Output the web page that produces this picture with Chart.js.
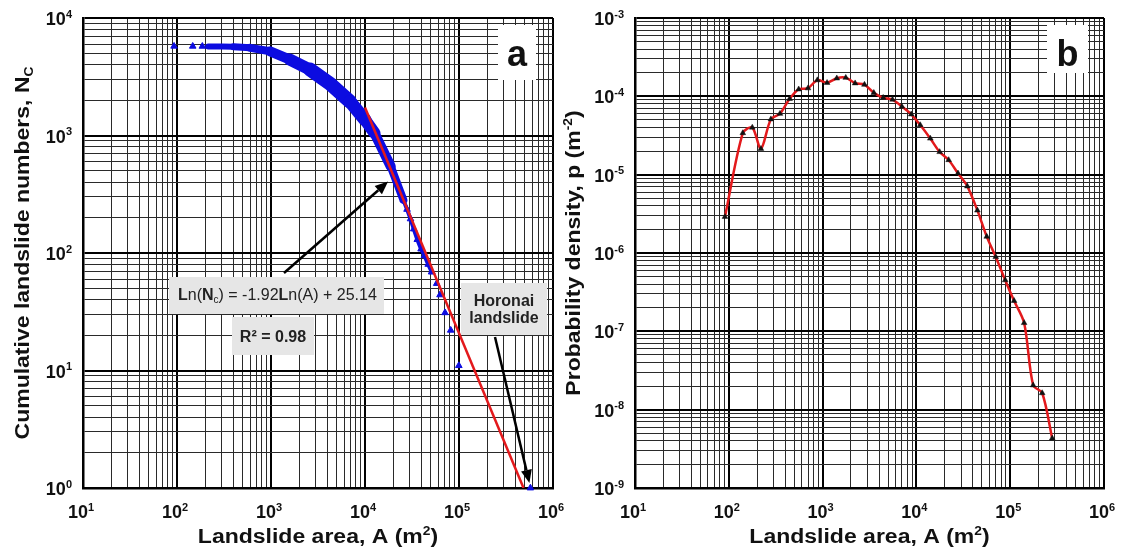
<!DOCTYPE html>
<html>
<head>
<meta charset="utf-8">
<title>Landslide area statistics</title>
<script src="https://cdn.jsdelivr.net/npm/chart.js@4.4.1/dist/chart.umd.min.js"></script>
<style>
  html, body { margin: 0; padding: 0; background: #fff; }
  .panel { position: absolute; top: 0; height: 552px; }
  /* panel a is a bit wider so its last tick label can spill past the split */
  #panelA { left: 0; width: 580px; }
  #panelB { left: 560px; width: 564px; }
</style>
</head>
<body>
<div class="panel" id="panelA"><canvas id="cumChart"></canvas></div>
<div class="panel" id="panelB"><canvas id="densChart"></canvas></div>
<script>
// ---- (a) cumulative number of landslides larger than A ----
const headArea = [93, 147, 186];
const headCount = [5750, 5745, 5740];

const bandArea = [215, 300, 400, 600, 980, 1590, 2600, 4250, 6900, 10000, 12600, 18800, 25600];
const bandCount = [5730, 5720, 5690, 5570, 5210, 4430, 3640, 2760, 1950, 1360, 1050, 545, 283];

const steepArea = [25600, 28000, 30500, 33000, 36000, 39500, 43000, 47000, 51300];
const steepCount = [283, 235, 195, 160, 130, 108, 95, 80, 69];

const tailArea = [51300, 57900, 62800, 71000, 81600, 99600];
const tailCount = [69, 55, 44, 31, 22, 11];

const horonaiArea = [575000];
const horonaiCount = [1];

// power-law fit of the tail: Ln(Nc) = fitSlope * Ln(A) + fitIntercept
const fitSlope = -1.92;
const fitIntercept = 25.14;
const fitR2 = 0.98;
const fitArea = [1e4, Math.exp(fitIntercept / -fitSlope)];

// ---- (b) probability density of landslide area ----
const densityArea = [91, 141, 178, 220, 281, 351, 445, 556, 699, 879,
  1116, 1417, 1766, 2222, 2795, 3516, 4424, 5565, 7000, 8806,
  10990, 14070, 17700, 22080, 27760, 34920, 44700, 56230, 70150, 88500,
  110000, 140800, 175700, 219300, 280600];
const density = [2.9e-6, 3.4e-5, 4.0e-5, 2.14e-5, 5.1e-5, 6.0e-5, 9.3e-5, 1.23e-4, 1.27e-4, 1.61e-4,
  1.49e-4, 1.70e-4, 1.73e-4, 1.47e-4, 1.41e-4, 1.11e-4, 9.6e-5, 9.1e-5, 7.4e-5, 5.9e-5,
  4.3e-5, 2.9e-5, 1.95e-5, 1.54e-5, 1.04e-5, 7.1e-6, 3.5e-6, 1.62e-6, 8.9e-7, 4.5e-7,
  2.45e-7, 1.28e-7, 2.05e-8, 1.63e-8, 4.3e-9];

// decades (powers of ten) spanned by each axis
const areaDecades = [1, 2, 3, 4, 5, 6];
const countDecades = [0, 1, 2, 3, 4];
const densityDecades = [-9, -8, -7, -6, -5, -4, -3];

// stroke widths along the dense part of the cumulative curve
const bandWidths = [6, 6, 7, 8, 10, 12, 14, 14, 13, 12, 10, 8];

const BLUE = '#0c0ce0';
const RED = '#e3191c';
const FONT = '"Liberation Sans", Arial, sans-serif';

const toPoints = (xs, ys) => xs.map((x, i) => ({ x, y: ys[i] }));
const font = (size, bold) => (bold ? 'bold ' : '') + size + 'px ' + FONT;
const isDecade = v => Math.abs(Math.log10(v) - Math.round(Math.log10(v))) < 1e-6;

function gridValues(decades) {
  const vals = [];
  for (let i = 0; i < decades.length - 1; i++) {
    for (let m = 1; m <= 9; m++) vals.push(m * Math.pow(10, decades[i]));
  }
  vals.push(Math.pow(10, decades[decades.length - 1]));
  return vals;
}

function logAxis(decades) {
  return {
    type: 'logarithmic',
    min: Math.pow(10, decades[0]),
    max: Math.pow(10, decades[decades.length - 1]),
    afterBuildTicks: s => { s.ticks = gridValues(decades).map(v => ({ value: v })); },
    afterFit: s => { if (s.isHorizontal()) s.height = 0; else s.width = 0; },
    ticks: { display: false },
    grid: {
      drawTicks: false,
      color: c => (c.tick && isDecade(c.tick.value)) ? '#000' : '#2a2a2a',
      lineWidth: c => (c.tick && isDecade(c.tick.value)) ? 2 : 1
    },
    border: { display: true, color: '#000', width: 2.5 }
  };
}

// text made of pieces: {t, bold, sup, sub}; y is the baseline
function drawRich(ctx, parts, x, y, size, align, stretch = 1) {
  const small = Math.round(size * 0.62);
  const sizeOf = p => (p.sup || p.sub) ? small : size;
  let w = 0;
  parts.forEach(p => { ctx.font = font(sizeOf(p), p.bold); w += ctx.measureText(p.t).width; });
  ctx.save();
  ctx.translate(x, y);
  ctx.scale(stretch, 1);
  let cx = align === 'center' ? -w / 2 : align === 'right' ? -w : 0;
  ctx.textAlign = 'left';
  ctx.textBaseline = 'alphabetic';
  parts.forEach(p => {
    ctx.font = font(sizeOf(p), p.bold);
    const dy = p.sup ? -size * 0.4 : p.sub ? size * 0.2 : 0;
    ctx.fillText(p.t, cx, dy);
    cx += ctx.measureText(p.t).width;
  });
  ctx.restore();
}

const decadeLabel = d => [{ t: '10', bold: true }, { t: String(d), bold: true, sup: true }];

function fillBox(ctx, x, y, w, h, color) {
  ctx.fillStyle = color;
  ctx.fillRect(x, y, w, h);
}

function drawArrow(ctx, x1, y1, x2, y2) {
  const ang = Math.atan2(y2 - y1, x2 - x1);
  const len = 13, half = 5.5;
  const bx = x2 - Math.cos(ang) * len, by = y2 - Math.sin(ang) * len;
  ctx.save();
  ctx.strokeStyle = '#000';
  ctx.fillStyle = '#000';
  ctx.lineWidth = 2.5;
  ctx.beginPath();
  ctx.moveTo(x1, y1);
  ctx.lineTo(bx, by);
  ctx.stroke();
  ctx.beginPath();
  ctx.moveTo(x2, y2);
  ctx.lineTo(bx - Math.sin(ang) * half, by + Math.cos(ang) * half);
  ctx.lineTo(bx + Math.sin(ang) * half, by - Math.cos(ang) * half);
  ctx.closePath();
  ctx.fill();
  ctx.restore();
}

function drawAxisText(chart, cfg) {
  const ctx = chart.ctx;
  const { left, right, top, bottom } = chart.chartArea;
  ctx.save();
  ctx.fillStyle = '#111';
  cfg.xDecades.forEach(d => {
    const px = chart.scales.x.getPixelForValue(Math.pow(10, d));
    drawRich(ctx, decadeLabel(d), px - 2, bottom + 30, 18, 'center');
  });
  cfg.yDecades.forEach(d => {
    const py = chart.scales.y.getPixelForValue(Math.pow(10, d));
    drawRich(ctx, decadeLabel(d), left - 11, py + 7, 18, 'right');
  });
  drawRich(ctx, cfg.xTitle, (left + right) / 2, 543, 20, 'center', 1.15);
  ctx.translate(cfg.yTitleX, (top + bottom) / 2);
  ctx.rotate(-Math.PI / 2);
  drawRich(ctx, cfg.yTitle, 0, 0, 20, 'center', 1.15);
  ctx.restore();
}

function decorPlugin(cfg) {
  return {
    id: 'decor',
    beforeDatasetsDraw(chart) { if (cfg.under) cfg.under(chart, chart.ctx); },
    afterDatasetsDraw(chart) { if (cfg.over) cfg.over(chart, chart.ctx); },
    afterDraw(chart) { drawAxisText(chart, cfg); }
  };
}

function panelLetter(ctx, area, letter, bx, by, bw, bh) {
  fillBox(ctx, area.left + bx, area.top + by, bw, bh, '#fff');
  ctx.fillStyle = '#111';
  drawRich(ctx, [{ t: letter, bold: true }], area.left + bx + bw / 2, area.top + by + 41, 36, 'center');
}

const titleArea = [{ t: 'Landslide area, A (m', bold: true }, { t: '2', bold: true, sup: true }, { t: ')', bold: true }];

const baseOptions = (padding) => ({
  responsive: true,
  maintainAspectRatio: false,
  animation: false,
  events: [],
  layout: { padding },
  plugins: { legend: { display: false }, tooltip: { enabled: false } }
});

// ---------- panel a ----------
const eqParts = [
  { t: 'L', bold: true }, { t: 'n(' }, { t: 'N', bold: true }, { t: 'c', sub: true },
  { t: ') = ' + fitSlope.toFixed(2) }, { t: 'L', bold: true },
  { t: 'n(A) + ' + fitIntercept.toFixed(2) }
];

new Chart(document.getElementById('cumChart'), {
  type: 'scatter',
  data: {
    datasets: [
      {
        label: 'fit',
        data: fitArea.map(a => ({ x: a, y: Math.exp(fitIntercept + fitSlope * Math.log(a)) })),
        showLine: true, borderColor: RED, borderWidth: 2.5, pointRadius: 0, order: 0
      },
      {
        label: 'band',
        data: toPoints(bandArea, bandCount),
        showLine: true, borderColor: BLUE, pointRadius: 0, order: 1,
        borderCapStyle: 'round', borderJoinStyle: 'round',
        segment: { borderWidth: c => bandWidths[c.p0DataIndex] }
      },
      {
        label: 'steep',
        data: toPoints(steepArea, steepCount),
        showLine: true, borderColor: BLUE, borderWidth: 4, order: 1,
        pointStyle: 'triangle', pointRadius: 3.8,
        pointBackgroundColor: BLUE, pointBorderColor: BLUE, pointBorderWidth: 1
      },
      {
        label: 'points',
        data: toPoints(headArea, headCount)
          .concat(toPoints(tailArea, tailCount))
          .concat(toPoints(horonaiArea, horonaiCount)),
        showLine: false, order: 1, clip: 6,
        pointStyle: 'triangle', pointRadius: 3.8,
        pointBackgroundColor: BLUE, pointBorderColor: BLUE, pointBorderWidth: 1
      }
    ]
  },
  options: Object.assign(baseOptions({ left: 83, right: 27, top: 18, bottom: 64 }), {
    scales: { x: logAxis(areaDecades), y: logAxis(countDecades) }
  }),
  plugins: [decorPlugin({
    xDecades: areaDecades,
    yDecades: countDecades,
    xTitle: titleArea,
    yTitle: [{ t: 'Cumulative landslide numbers, N', bold: true }, { t: 'C', bold: true, sub: true }],
    yTitleX: 29,
    under(chart, ctx) {
      const a = chart.chartArea;
      ctx.save();
      panelLetter(ctx, a, 'a', 415, 7, 38, 55);
      // fit equation
      fillBox(ctx, a.left + 86, a.top + 259, 215, 37, '#e6e6e6');
      ctx.fillStyle = '#222';
      drawRich(ctx, eqParts, a.left + 95, a.top + 282, 16, 'left');
      // goodness of fit
      fillBox(ctx, a.left + 149, a.top + 299, 82, 38, '#e6e6e6');
      ctx.fillStyle = '#222';
      drawRich(ctx, [{ t: 'R\u00B2 = ' + fitR2.toFixed(2), bold: true }], a.left + 190, a.top + 324, 16, 'center');
      // largest event
      fillBox(ctx, a.left + 378, a.top + 265, 86, 52, '#e6e6e6');
      ctx.fillStyle = '#222';
      drawRich(ctx, [{ t: 'Horonai', bold: true }], a.left + 421, a.top + 288, 16, 'center');
      drawRich(ctx, [{ t: 'landslide', bold: true }], a.left + 421, a.top + 305, 16, 'center');
      ctx.restore();
    },
    over(chart, ctx) {
      const a = chart.chartArea, xs = chart.scales.x, ys = chart.scales.y;
      drawArrow(ctx, a.left + 201, a.top + 255, xs.getPixelForValue(17600), ys.getPixelForValue(405));
      drawArrow(ctx, a.left + 412, a.top + 319,
        xs.getPixelForValue(horonaiArea[0]) - 1, ys.getPixelForValue(horonaiCount[0]) - 5);
    }
  })]
});

// ---------- panel b ----------
new Chart(document.getElementById('densChart'), {
  type: 'scatter',
  data: {
    datasets: [{
      label: 'density',
      data: toPoints(densityArea, density),
      showLine: true, borderColor: RED, borderWidth: 2.5, tension: 0.3,
      pointStyle: 'triangle', pointRadius: 3.3,
      pointBackgroundColor: '#111', pointBorderColor: '#111', pointBorderWidth: 0.5
    }]
  },
  options: Object.assign(baseOptions({ left: 75, right: 20, top: 18, bottom: 64 }), {
    scales: { x: logAxis(areaDecades), y: logAxis(densityDecades) }
  }),
  plugins: [decorPlugin({
    xDecades: areaDecades,
    yDecades: densityDecades,
    xTitle: titleArea,
    yTitle: [{ t: 'Probability density, p (m', bold: true }, { t: '-2', bold: true, sup: true }, { t: ')', bold: true }],
    yTitleX: 20,
    under(chart, ctx) {
      ctx.save();
      panelLetter(ctx, chart.chartArea, 'b', 412, 7, 41, 48);
      ctx.restore();
    }
  })]
});
</script>
</body>
</html>
